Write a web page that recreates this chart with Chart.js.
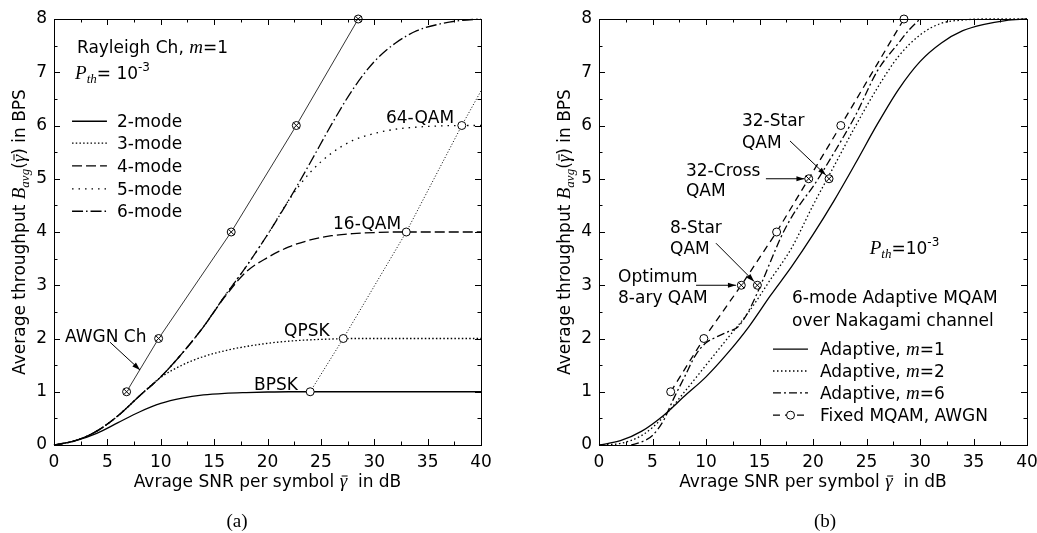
<!DOCTYPE html>
<html><head><meta charset="utf-8">
<script src="https://cdn.jsdelivr.net/npm/chart.js@4.4.1/dist/chart.umd.min.js"></script>
<style>
html,body{margin:0;padding:0;background:#fff;overflow:hidden;width:1037px;height:533px;}
#wa{position:absolute;left:0;top:0;width:500px;height:533px;}
#wb{position:absolute;left:520px;top:0;width:530px;height:533px;}
canvas{display:block;}
</style></head><body>
<div id="wa"><canvas id="ca" width="500" height="533" style="width:500px;height:533px"></canvas></div>
<div id="wb"><canvas id="cb" width="530" height="533" style="width:530px;height:533px"></canvas></div>
<script>
// ---------------- data: axes ----------------
const xTickValues = [0, 5, 10, 15, 20, 25, 30, 35, 40];
const yTickValues = [0, 1, 2, 3, 4, 5, 6, 7, 8];

// ---------------- data: panel (a), Rayleigh channel m=1 ----------------
const snrGrid  = [0, 2, 4, 6, 8, 10, 12, 14, 16, 18, 20, 22, 24, 26, 28, 30, 32, 34, 36, 38, 40];
const bps2Mode = [0, 0.08, 0.22, 0.42, 0.62, 0.78, 0.88, 0.94, 0.97, 0.985, 0.995, 1, 1, 1, 1, 1, 1, 1, 1, 1, 1];
const bps3Mode = [0, 0.08, 0.26, 0.55, 0.92, 1.27, 1.5, 1.66, 1.77, 1.85, 1.91, 1.95, 1.975, 1.99, 2, 2, 2, 2, 2, 2, 2];
const bps4Mode = [0, 0.08, 0.26, 0.55, 0.92, 1.28, 1.72, 2.22, 2.78, 3.25, 3.52, 3.72, 3.85, 3.93, 3.97, 3.99, 4, 4, 4, 4, 4];
const bps5Mode = [0, 0.08, 0.26, 0.55, 0.92, 1.28, 1.72, 2.22, 2.8, 3.35, 3.95, 4.6, 5.12, 5.48, 5.72, 5.85, 5.93, 5.97, 5.99, 6, 6];
const bps6Mode = [0, 0.08, 0.26, 0.55, 0.92, 1.28, 1.72, 2.22, 2.8, 3.35, 3.95, 4.6, 5.3, 6.02, 6.68, 7.2, 7.55, 7.78, 7.9, 7.97, 8];
const awgnSnr = [6.8, 9.8, 16.6, 22.7, 28.5];
const awgnBps = [1, 2, 4, 6, 8];
const rayFixedSnr = [24.0, 27.1, 33.0, 38.2, 40.0];
const rayFixedBps = [1, 2, 4, 6, 6.65];
const modeLabels = ['2-mode', '3-mode', '4-mode', '5-mode', '6-mode'];

// ---------------- data: panel (b), Nakagami channel ----------------
const bpsNakM1 = [0, 0.08, 0.26, 0.55, 0.92, 1.28, 1.72, 2.22, 2.8, 3.35, 3.95, 4.6, 5.3, 6.02, 6.68, 7.2, 7.55, 7.78, 7.9, 7.97, 8];
const bpsNakM2 = [0, 0.03, 0.18, 0.52, 1.0, 1.5, 2.0, 2.5, 3.1, 3.7, 4.5, 5.25, 6.0, 6.7, 7.3, 7.7, 7.92, 7.98, 8, 8, 8];
const snrNakM6 = [3, 4, 5, 6, 7, 8, 9, 10, 11, 12, 13, 14, 15, 16, 17, 18, 19, 20, 22, 24, 26, 28, 29, 30];
const bpsNakM6 = [0, 0.06, 0.18, 0.45, 0.88, 1.28, 1.68, 1.92, 2.03, 2.12, 2.22, 2.52, 2.95, 3.43, 3.9, 4.28, 4.58, 4.85, 5.5, 6.2, 7.02, 7.55, 7.8, 8.0];
const fixedSnr = [6.7, 9.8, 13.3, 16.6, 19.6, 22.6, 28.5];
const fixedBps = [1, 2, 3, 4, 5, 6, 8];
const fixedCrossed = [false, false, true, false, true, false, false];
const starSnr = [14.8, 21.5];
const starBps = [3, 5];
const nakLabels = ['Adaptive, m=1', 'Adaptive, m=2', 'Adaptive, m=6', 'Fixed MQAM, AWGN'];

// ---------------- helpers ----------------
const F = {
  sans: "17px 'DejaVu Sans'",
  mi: "italic 19px 'Liberation Serif'",
  sub: "italic 13px 'Liberation Serif'",
  sup: "12px 'DejaVu Sans'"
};
const pts = (xs, ys) => xs.map((x, i) => ({x: x, y: ys[i]}));

function curve(label, xs, ys, dash, width) {
  return {label: label, data: pts(xs, ys), showLine: true, borderColor: '#000', backgroundColor: '#000',
    borderWidth: width || 1.3, borderDash: dash || [], pointRadius: 0, pointHoverRadius: 0,
    cubicInterpolationMode: 'monotone', fill: false, clip: false};
}
function straight(label, xs, ys, dash, width, radius) {
  return {label: label, data: pts(xs, ys), showLine: true, borderColor: '#000', backgroundColor: '#fff',
    borderWidth: width, borderDash: dash, tension: 0, clip: false,
    pointStyle: 'circle', pointRadius: radius, pointHoverRadius: 0,
    pointBackgroundColor: '#fff', pointBorderColor: '#000', pointBorderWidth: 1};
}
function crosses(label, xs, ys, radius) {
  return {label: label, data: pts(xs, ys), showLine: false, clip: false,
    pointStyle: 'crossRot', pointRadius: radius, pointHoverRadius: 0,
    pointBorderColor: '#000', pointBackgroundColor: '#000', pointBorderWidth: 1};
}
function rich(ctx, x, y, parts, align) {
  let w = 0;
  for (const p of parts) { ctx.font = p.f; p.w = ctx.measureText(p.t).width; w += p.w; }
  let cx = align === 'center' ? x - w / 2 : x;
  ctx.textAlign = 'left'; ctx.textBaseline = 'alphabetic'; ctx.fillStyle = '#000';
  for (const p of parts) {
    ctx.font = p.f; ctx.fillText(p.t, cx, y + (p.dy || 0));
    if (p.bar) {
      ctx.save(); ctx.strokeStyle = '#000'; ctx.lineWidth = 1; ctx.beginPath();
      ctx.moveTo(cx + 2, y - p.bar); ctx.lineTo(cx + p.w + 0.5, y - p.bar); ctx.stroke(); ctx.restore();
    }
    cx += p.w;
  }
}
function arrow(ctx, x1, y1, x2, y2) {
  ctx.save(); ctx.strokeStyle = '#000'; ctx.fillStyle = '#000'; ctx.lineWidth = 1;
  ctx.beginPath(); ctx.moveTo(x1, y1); ctx.lineTo(x2, y2); ctx.stroke();
  const a = Math.atan2(y2 - y1, x2 - x1), L = 8, H = 2.6;
  ctx.beginPath(); ctx.moveTo(x2, y2);
  ctx.lineTo(x2 - L * Math.cos(a) + H * Math.sin(a), y2 - L * Math.sin(a) - H * Math.cos(a));
  ctx.lineTo(x2 - L * Math.cos(a) - H * Math.sin(a), y2 - L * Math.sin(a) + H * Math.cos(a));
  ctx.closePath(); ctx.fill(); ctx.restore();
}
function axisTitles(chart) {
  const ctx = chart.ctx, a = chart.chartArea;
  rich(ctx, (a.left + a.right) / 2, a.bottom + 42, [
    {t: 'Avrage SNR per symbol ', f: F.sans},
    {t: '\u03b3', f: F.mi, bar: 11},
    {t: '  in dB', f: F.sans}], 'center');
  ctx.save();
  ctx.translate(a.left - 35, (a.top + a.bottom) / 2);
  ctx.rotate(-Math.PI / 2);
  rich(ctx, 0, 6, [
    {t: 'Average throughput ', f: F.sans},
    {t: 'B', f: F.mi},
    {t: 'avg', f: F.sub, dy: 4},
    {t: '(', f: F.sans},
    {t: '\u03b3', f: F.mi, bar: 11},
    {t: ')', f: F.sans},
    {t: ' in BPS', f: F.sans}], 'center');
  ctx.restore();
}

const framePlugin = {
  id: 'frame',
  afterDatasetsDraw(chart) {
    const ctx = chart.ctx, a = chart.chartArea, xs = chart.scales.x, ys = chart.scales.y;
    ctx.save(); ctx.strokeStyle = '#000'; ctx.lineWidth = 1;
    const seg = (x1, y1, x2, y2) => { ctx.beginPath(); ctx.moveTo(x1, y1); ctx.lineTo(x2, y2); ctx.stroke(); };
    for (let i = 0; i < xTickValues.length; i++) {
      const v = xTickValues[i];
      const px = Math.round(xs.getPixelForValue(v)) + 0.5;
      seg(px, a.bottom, px, a.bottom - 6); seg(px, a.top, px, a.top + 6);
      if (i < xTickValues.length - 1) {
        const pm = Math.round(xs.getPixelForValue((v + xTickValues[i + 1]) / 2)) + 0.5;
        seg(pm, a.bottom, pm, a.bottom - 3.5); seg(pm, a.top, pm, a.top + 3.5);
      }
    }
    for (let i = 0; i < yTickValues.length; i++) {
      const v = yTickValues[i];
      const py = Math.round(ys.getPixelForValue(v)) + 0.5;
      seg(a.left, py, a.left + 6, py); seg(a.right, py, a.right - 6, py);
      if (i < yTickValues.length - 1) {
        const pm = Math.round(ys.getPixelForValue((v + yTickValues[i + 1]) / 2)) + 0.5;
        seg(a.left, pm, a.left + 3.5, pm); seg(a.right, pm, a.right - 3.5, pm);
      }
    }
    ctx.strokeRect(Math.round(a.left) + 0.5, Math.round(a.top) + 0.5, Math.round(a.right - a.left), Math.round(a.bottom - a.top));
    ctx.restore();
  }
};

function baseOptions(yWidth, padRight) {
  return {
    responsive: false, animation: false, events: [],
    layout: {padding: {top: 19, right: padRight, left: 0, bottom: 0}},
    plugins: {legend: {display: false}, tooltip: {enabled: false}},
    scales: {
      x: {type: 'linear', min: 0, max: 40,
        afterBuildTicks: s => { s.ticks = xTickValues.map(v => ({value: v})); },
        afterFit: s => { s.height = 88; },
        grid: {display: false, drawTicks: false}, border: {display: false},
        ticks: {color: '#000', padding: 7, font: {family: 'DejaVu Sans', size: 17}, maxRotation: 0}},
      y: {type: 'linear', min: 0, max: 8,
        afterBuildTicks: s => { s.ticks = yTickValues.map(v => ({value: v})); },
        afterFit: s => { s.width = yWidth; },
        grid: {display: false, drawTicks: false}, border: {display: false},
        ticks: {color: '#000', padding: 7, font: {family: 'DejaVu Sans', size: 17}}}
    }
  };
}

// ---------------- chart (a) ----------------
const dashA = [[], [1.5, 2.2], [10, 4], [1.5, 5], [11, 3, 1.5, 3]];
const modeData = [bps2Mode, bps3Mode, bps4Mode, bps5Mode, bps6Mode];
const textA = {
  id: 'textA',
  afterDraw(chart) {
    const ctx = chart.ctx, xs = chart.scales.x, ys = chart.scales.y;
    const X = v => xs.getPixelForValue(v), Y = v => ys.getPixelForValue(v);
    rich(ctx, X(2.15), Y(7.47) + 6, [{t: 'Rayleigh Ch, ', f: F.sans}, {t: 'm', f: F.mi}, {t: '=1', f: F.sans}]);
    rich(ctx, X(1.97), Y(6.99) + 6, [{t: 'P', f: F.mi}, {t: 'th', f: F.sub, dy: 4}, {t: '= 10', f: F.sans}, {t: '-3', f: F.sup, dy: -8}]);
    const rows = [6.08, 5.67, 5.24, 4.81, 4.39];
    rows.forEach((r, i) => {
      ctx.save(); ctx.strokeStyle = '#000'; ctx.lineWidth = 1.3; ctx.setLineDash(dashA[i]);
      ctx.beginPath(); ctx.moveTo(X(1.69), Y(r)); ctx.lineTo(X(4.96), Y(r)); ctx.stroke(); ctx.restore();
      rich(ctx, X(5.9), Y(r) + 6, [{t: modeLabels[i], f: F.sans}]);
    });
    rich(ctx, X(1.03), Y(2.05) + 6, [{t: 'AWGN Ch', f: F.sans}]);
    arrow(ctx, X(5.25), Y(1.93), X(8.06), Y(1.41));
    rich(ctx, X(18.74), Y(1.15) + 6, [{t: 'BPSK', f: F.sans}]);
    rich(ctx, X(21.55), Y(2.16) + 6, [{t: 'QPSK', f: F.sans}]);
    rich(ctx, X(26.14), Y(4.17) + 6, [{t: '16-QAM', f: F.sans}]);
    rich(ctx, X(31.1), Y(6.16) + 6, [{t: '64-QAM', f: F.sans}]);
    axisTitles(chart);
    ctx.save(); ctx.font = "19px 'Liberation Serif'"; ctx.textAlign = 'center'; ctx.textBaseline = 'alphabetic'; ctx.fillStyle = '#000';
    ctx.fillText('(a)', 237, 527); ctx.restore();
  }
};
const dsA = [
  crosses('AWGN marks', awgnSnr, awgnBps, 4),
  straight('AWGN', awgnSnr, awgnBps, [], 0.8, 4),
  straight('Rayleigh fixed', rayFixedSnr, rayFixedBps, [1, 2], 1, [4, 4, 4, 4, 0])
];
modeData.forEach((d, i) => dsA.push(curve(modeLabels[i], snrGrid, d, dashA[i], 1.3)));
new Chart(document.getElementById('ca'), {
  type: 'scatter', data: {datasets: dsA}, options: baseOptions(54, 19), plugins: [framePlugin, textA]
});

// ---------------- chart (b) ----------------
const dashB = [[], [1.5, 2.5], [8, 3, 2, 3], [7, 5]];
const textB = {
  id: 'textB',
  afterDraw(chart) {
    const ctx = chart.ctx, xs = chart.scales.x, ys = chart.scales.y;
    const X = v => xs.getPixelForValue(v), Y = v => ys.getPixelForValue(v);
    rich(ctx, X(13.36), Y(6.10) + 6, [{t: '32-Star', f: F.sans}]);
    rich(ctx, X(13.36), Y(5.69) + 6, [{t: 'QAM', f: F.sans}]);
    arrow(ctx, X(17.85), Y(5.71), X(21.2), Y(5.07));
    rich(ctx, X(8.13), Y(5.16) + 6, [{t: '32-Cross', f: F.sans}]);
    rich(ctx, X(8.13), Y(4.79) + 6, [{t: 'QAM', f: F.sans}]);
    arrow(ctx, X(15.6), Y(5.0), X(19.2), Y(5.0));
    rich(ctx, X(6.64), Y(4.09) + 6, [{t: '8-Star', f: F.sans}]);
    rich(ctx, X(6.64), Y(3.70) + 6, [{t: 'QAM', f: F.sans}]);
    arrow(ctx, X(10.93), Y(3.79), X(14.5), Y(3.07));
    rich(ctx, X(1.78), Y(3.17) + 6, [{t: 'Optimum', f: F.sans}]);
    rich(ctx, X(1.78), Y(2.78) + 6, [{t: '8-ary QAM', f: F.sans}]);
    arrow(ctx, X(9.07), Y(3.0), X(12.8), Y(3.0));
    rich(ctx, X(25.3), Y(3.70) + 6, [{t: 'P', f: F.mi}, {t: 'th', f: F.sub, dy: 4}, {t: '=10', f: F.sans}, {t: '-3', f: F.sup, dy: -8}]);
    rich(ctx, X(18.04), Y(2.78) + 6, [{t: '6-mode Adaptive MQAM', f: F.sans}]);
    rich(ctx, X(18.04), Y(2.35) + 6, [{t: 'over Nakagami channel', f: F.sans}]);
    const rows = [1.80, 1.39, 0.98, 0.56];
    rows.forEach((r, i) => {
      ctx.save(); ctx.strokeStyle = '#000'; ctx.lineWidth = 1.3; ctx.setLineDash(dashB[i]);
      ctx.beginPath(); ctx.moveTo(X(16.26), Y(r)); ctx.lineTo(X(19.53), Y(r)); ctx.stroke(); ctx.restore();
      if (i === 3) {
        ctx.save(); ctx.fillStyle = '#fff'; ctx.strokeStyle = '#000'; ctx.lineWidth = 1;
        ctx.beginPath(); ctx.arc(X(17.9), Y(r), 4, 0, Math.PI * 2); ctx.fill(); ctx.stroke(); ctx.restore();
      }
      const lab = nakLabels[i];
      if (lab.indexOf('m=') >= 0) {
        const k = lab.indexOf('m=');
        rich(ctx, X(20.65), Y(r) + 6, [{t: lab.slice(0, k), f: F.sans}, {t: 'm', f: F.mi}, {t: lab.slice(k + 1), f: F.sans}]);
      } else {
        rich(ctx, X(20.65), Y(r) + 6, [{t: lab, f: F.sans}]);
      }
    });
    axisTitles(chart);
    ctx.save(); ctx.font = "19px 'Liberation Serif'"; ctx.textAlign = 'center'; ctx.textBaseline = 'alphabetic'; ctx.fillStyle = '#000';
    ctx.fillText('(b)', 305, 527); ctx.restore();
  }
};
const dsB = [
  crosses('8/32-Star marks', starSnr, starBps, 4),
  Object.assign(crosses('Fixed crossed marks', fixedSnr, fixedBps, 4), {pointRadius: fixedCrossed.map(c => c ? 4 : 0)}),
  Object.assign(straight('8/32-Star', starSnr, starBps, [], 1, 4), {showLine: false}),
  straight('Fixed MQAM, AWGN', fixedSnr, fixedBps, dashB[3], 1.3, 4),
  curve('Adaptive, m=1', snrGrid, bpsNakM1, dashB[0], 1.3),
  curve('Adaptive, m=2', snrGrid, bpsNakM2, dashB[1], 1.3),
  curve('Adaptive, m=6', snrNakM6, bpsNakM6, dashB[2], 1.3)
];
new Chart(document.getElementById('cb'), {
  type: 'scatter', data: {datasets: dsB}, options: baseOptions(79, 23), plugins: [framePlugin, textB]
});
</script>
</body></html>
